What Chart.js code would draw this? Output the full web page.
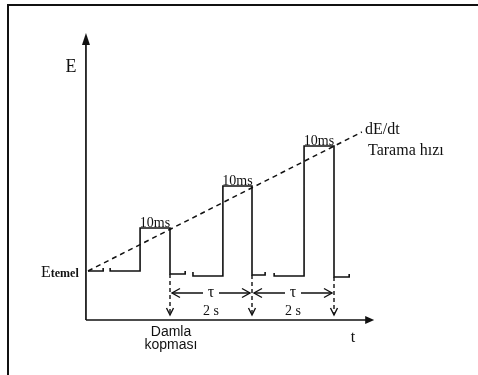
<!DOCTYPE html>
<html><head><meta charset="utf-8">
<script src="https://cdn.jsdelivr.net/npm/chart.js@4/dist/chart.umd.min.js"></script>
<style>html,body{margin:0;padding:0;background:#fff;overflow:hidden}#c{display:block}</style>
</head><body>
<canvas id="c" width="478" height="375"></canvas>
<script>
// Time (s) and potential (arbitrary units) of the pulse waveform; null = pen lifted
const waveT = [0, 0.37, 0.37, null, 0.54, 0.54, 1.27, 1.27, 2.0, 2.0, 2.37, 2.37, null,
               2.56, 2.56, 3.29, 3.29, 4.0, 4.0, 4.32, 4.32, null,
               4.54, 4.54, 5.27, 5.27, 6.0, 6.0, 6.37, 6.37];
const waveE = [49, 49, 52, null, 52, 49, 49, 92, 92, 46, 46, 49, null,
               48, 44, 44, 134, 134, 45, 45, 48, null,
               47, 44, 44, 174, 174, 43, 43, 46];
// Scan ramp dE/dt
const scanT = [0, 6.68];
const scanE = [49, 188];
// Pulses and drop detachment times
const pulseRiseT = [1.27, 3.29, 5.27];
const dropT = [2, 4, 6];
const pulseTopE = [92, 134, 174];
const dropBaseE = [46, 45, 43];
const pulseLabel = '10ms';
const intervalLabel = '2 s';
const tauLabel = 'τ';
const axisEnd = { t: 6.98, E: 287 };

const toPts = (T, E) => T.map((t, i) => (t === null ? { x: NaN, y: NaN } : { x: t, y: E[i] }));

const overlay = {
  id: 'overlay',
  afterDatasetsDraw(chart) {
    const ctx = chart.ctx;
    const xs = chart.scales.x, ys = chart.scales.y;
    const px = t => xs.getPixelForValue(t);
    const py = e => ys.getPixelForValue(e);
    ctx.save();
    ctx.strokeStyle = '#111'; ctx.fillStyle = '#111';

    // frame
    ctx.fillRect(7, 4, 2, 371);
    ctx.fillRect(7, 4, 471, 2);

    // axes
    const ax0 = px(-0.05), ay0 = py(0);
    ctx.lineWidth = 1.7;
    ctx.beginPath(); ctx.moveTo(ax0, ay0); ctx.lineTo(ax0, py(axisEnd.E) + 11); ctx.stroke();
    ctx.beginPath(); ctx.moveTo(ax0, py(axisEnd.E)); ctx.lineTo(ax0 - 4, py(axisEnd.E) + 12); ctx.lineTo(ax0 + 4, py(axisEnd.E) + 12); ctx.closePath(); ctx.fill();
    ctx.beginPath(); ctx.moveTo(ax0, ay0); ctx.lineTo(px(axisEnd.t) - 7, ay0); ctx.stroke();
    ctx.beginPath(); ctx.moveTo(px(axisEnd.t), ay0); ctx.lineTo(px(axisEnd.t) - 9, ay0 - 4); ctx.lineTo(px(axisEnd.t) - 9, ay0 + 4); ctx.closePath(); ctx.fill();

    // drop arrows (dashed verticals with open heads)
    ctx.lineWidth = 1.4;
    dropT.forEach((t, i) => {
      const x = px(t);
      ctx.setLineDash([4, 3]);
      ctx.beginPath(); ctx.moveTo(x, py(dropBaseE[i])); ctx.lineTo(x, py(5)); ctx.stroke();
      ctx.setLineDash([]);
      ctx.beginPath(); ctx.moveTo(x - 3.5, py(12)); ctx.lineTo(x, py(5)); ctx.lineTo(x + 3.5, py(12)); ctx.stroke();
    });

    // tau intervals
    const yT = py(27);
    for (let i = 0; i < dropT.length - 1; i++) {
      const xa = px(dropT[i]) + 2, xb = px(dropT[i + 1]) - 2, xm = (xa + xb) / 2;
      ctx.lineWidth = 1.4;
      ctx.beginPath(); ctx.moveTo(xa, yT); ctx.lineTo(xm - 8, yT); ctx.moveTo(xm + 8, yT); ctx.lineTo(xb, yT); ctx.stroke();
      ctx.beginPath(); ctx.moveTo(xa + 8, yT - 4.5); ctx.lineTo(xa, yT); ctx.lineTo(xa + 8, yT + 4.5); ctx.stroke();
      ctx.beginPath(); ctx.moveTo(xb - 8, yT - 4.5); ctx.lineTo(xb, yT); ctx.lineTo(xb - 8, yT + 4.5); ctx.stroke();
      ctx.textAlign = 'center'; ctx.textBaseline = 'alphabetic';
      ctx.font = '16px "Liberation Serif"';
      ctx.fillText(tauLabel, xm, yT + 4);
      ctx.font = '14px "Liberation Serif"';
      ctx.fillText(intervalLabel, xm, py(5));
    }

    // pulse width labels
    ctx.font = '14px "Liberation Serif"'; ctx.textAlign = 'center';
    pulseRiseT.forEach((t, i) => {
      ctx.fillText(pulseLabel, (px(t) + px(dropT[i])) / 2, py(pulseTopE[i]) - 1.5);
    });

    // scan rate label
    ctx.textAlign = 'left'; ctx.font = '16px "Liberation Serif"';
    ctx.fillText('dE/dt', 365, 134);
    ctx.fillText('Tarama hızı', 368, 155);

    // axis labels
    ctx.font = '18px "Liberation Serif"'; ctx.textAlign = 'center';
    ctx.fillText('E', 71, 72);
    ctx.font = '16px "Liberation Serif"';
    ctx.fillText('t', 353, 342);
    ctx.textAlign = 'left';
    ctx.font = '16px "Liberation Serif"';
    ctx.fillText('E', 41, 277);
    const ew = ctx.measureText('E').width;
    ctx.font = 'bold 12px "Liberation Serif"';
    ctx.fillText('temel', 41 + ew, 277);

    ctx.font = '14px "Liberation Sans"'; ctx.textAlign = 'center';
    ctx.fillText('Damla', px(dropT[0]) + 1, 336);
    ctx.fillText('kopması', px(dropT[0]) + 1, 349);
    ctx.restore();
  }
};

new Chart(document.getElementById('c'), {
  type: 'scatter',
  data: {
    datasets: [
      { data: toPts(waveT, waveE), showLine: true, borderColor: '#111', borderWidth: 1.6, pointRadius: 0, spanGaps: false, tension: 0 },
      { data: toPts(scanT, scanE), showLine: true, borderColor: '#111', borderWidth: 1.5, borderDash: [5, 4], pointRadius: 0, tension: 0 }
    ]
  },
  options: {
    responsive: false, animation: false,
    layout: { padding: 0 },
    plugins: { legend: { display: false }, tooltip: { enabled: false } },
    scales: {
      x: { type: 'linear', min: -88 / 41, max: 390 / 41, display: false },
      y: { type: 'linear', min: -55, max: 320, display: false }
    }
  },
  plugins: [overlay]
});
</script>
</body></html>
